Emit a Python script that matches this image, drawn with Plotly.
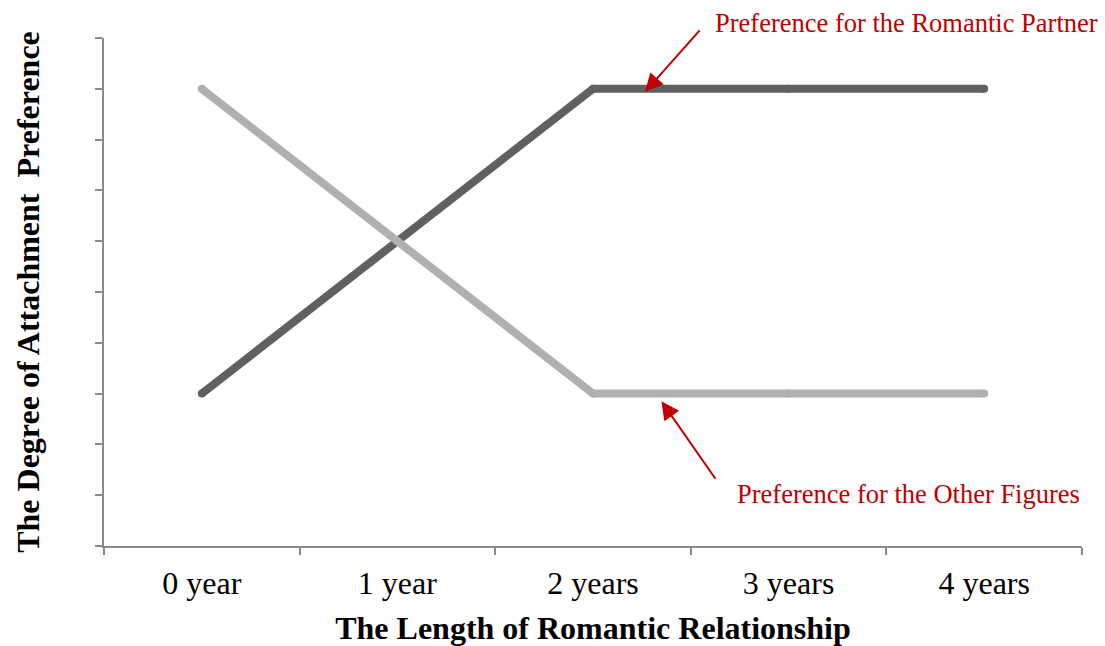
import plotly.graph_objects as go

categories = ["0 year", "1 year", "2 years", "3 years", "4 years"]
partner_pref = [3, 6, 9, 9, 9]
other_pref = [9, 6, 3, 3, 3]

FONT = "Liberation Serif, Times New Roman, serif"
RED = "#c00000"
AXIS = "#8a8a8a"

fig = go.Figure()
fig.add_trace(go.Scatter(
    x=categories, y=partner_pref, mode="lines+markers",
    name="Preference for the Romantic Partner",
    line=dict(color="#606060", width=8),
    marker=dict(color="#606060", size=8, line=dict(width=0)),
))
fig.add_trace(go.Scatter(
    x=categories, y=other_pref, mode="lines+markers",
    name="Preference for the Other Figures",
    line=dict(color="#b0b0b0", width=8),
    marker=dict(color="#b0b0b0", size=8, line=dict(width=0)),
))

# arrows (tip in data coords, tail offset in pixels)
fig.add_annotation(x=2.266, y=8.94, xref="x", yref="y", text="",
                   showarrow=True, arrowhead=2, arrowsize=1.8, arrowwidth=2,
                   arrowcolor=RED, ax=56, ay=-63)
fig.add_annotation(x=2.35, y=2.85, xref="x", yref="y", text="",
                   showarrow=True, arrowhead=2, arrowsize=1.8, arrowwidth=2,
                   arrowcolor=RED, ax=55, ay=79)
# labels
fig.add_annotation(x=0.6225, y=1.0295, xref="paper", yref="paper",
                   text="Preference for the Romantic Partner", showarrow=False,
                   xanchor="left", yanchor="middle",
                   font=dict(family=FONT, size=26.5, color=RED))
fig.add_annotation(x=0.645, y=0.1014, xref="paper", yref="paper",
                   text="Preference for the Other Figures", showarrow=False,
                   xanchor="left", yanchor="middle",
                   font=dict(family=FONT, size=26.5, color=RED))

fig.update_layout(
    width=1105, height=646,
    margin=dict(l=104, r=23, t=38, b=100, autoexpand=False),
    paper_bgcolor="white", plot_bgcolor="white",
    showlegend=False,
    font=dict(family=FONT, color="black"),
)
fig.update_xaxes(
    type="category", range=[-0.5, 4.5], automargin=False,
    tickson="boundaries", ticks="outside", ticklen=7, tickwidth=1.5, tickcolor=AXIS,
    ticklabelstandoff=8,
    showline=True, linecolor=AXIS, linewidth=1.5,
    showgrid=False, zeroline=False,
    tickfont=dict(family=FONT, size=32, color="black"),
    title=dict(text="<b>The Length of Romantic Relationship</b>",
               font=dict(family=FONT, size=32, color="black"), standoff=18),
)
fig.update_yaxes(
    range=[0, 10], tick0=0, dtick=1, automargin=False,
    ticks="outside", ticklen=7, tickwidth=1.5, tickcolor=AXIS,
    showticklabels=False,
    showline=True, linecolor=AXIS, linewidth=1.5,
    showgrid=False, zeroline=False,
    title=dict(text="<b>The Degree of Attachment  Preference</b>",
               font=dict(family=FONT, size=32, color="black"), standoff=46),
)

fig.write_html(
    "out.html",
    config={"displayModeBar": False},
    post_script="document.body.style.margin='0';document.body.style.overflow='hidden';",
)
